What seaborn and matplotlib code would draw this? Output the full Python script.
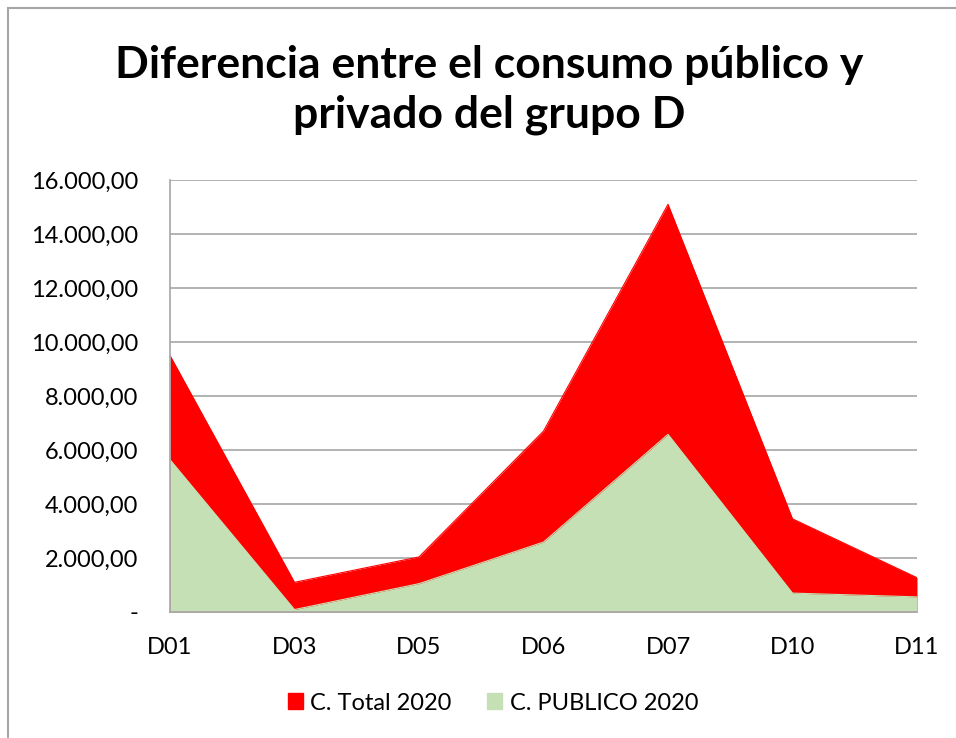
import numpy as np
import pandas as pd
import matplotlib
matplotlib.use("Agg")
import matplotlib.pyplot as plt
import seaborn as sns
from matplotlib.patches import Patch, Rectangle
from matplotlib.ticker import FuncFormatter

# datos
grupos = ["D01", "D03", "D05", "D06", "D07", "D10", "D11"]
total_2020 = [9500, 1100, 2040, 6700, 15100, 3450, 1270]
publico_2020 = [5640, 90, 1050, 2590, 6580, 700, 560]

rojo = "#FF0000"
verde = "#C5E0B4"

sns.set_theme(style="white")
plt.rcParams["font.family"] = ["Lato", "DejaVu Sans"]
plt.rcParams["text.color"] = "black"

df = pd.DataFrame({"grupo": grupos, "total": total_2020, "publico": publico_2020})
df["x"] = np.arange(len(df))

fig = plt.figure(figsize=(9.56, 7.38), dpi=100)
ax = fig.add_axes([170 / 956, 1 - 612 / 738, (917 - 170) / 956, (612 - 180) / 738])

# areas superpuestas (no apiladas)
ax.fill_between(df["x"], df["total"], color=rojo, linewidth=0, zorder=2)
ax.fill_between(df["x"], df["publico"], color=verde, linewidth=0, zorder=3)
sns.lineplot(data=df, x="x", y="total", color=rojo, linewidth=0.8, ax=ax, zorder=2)
sns.lineplot(data=df, x="x", y="publico", color=verde, linewidth=0.8, ax=ax, zorder=3)

ax.set_xlim(0, len(grupos) - 1)
ax.set_ylim(0, 16000)
ax.set_yticks(np.arange(0, 16001, 2000))
ax.set_xticks(df["x"])
ax.set_xticklabels(grupos)


def formato(v, pos):
    if v == 0:
        return "-"
    s = f"{v:,.2f}"
    return s.replace(",", "X").replace(".", ",").replace("X", ".")


ax.yaxis.set_major_formatter(FuncFormatter(formato))
ax.grid(axis="y", color="#A6A6A6", linewidth=1.2, zorder=1)
ax.set_axisbelow(True)
ax.set_xlabel("")
ax.set_ylabel("")
for lado in ["top", "right"]:
    ax.spines[lado].set_visible(False)
for lado in ["left", "bottom"]:
    ax.spines[lado].set_color("#A6A6A6")
    ax.spines[lado].set_linewidth(1.2)
    ax.spines[lado].set_zorder(5)
ax.tick_params(axis="y", length=0, pad=23, labelsize=17, labelcolor="black")
ax.tick_params(axis="x", length=0, pad=18, labelsize=17, labelcolor="black")

fig.text(489 / 956, 1 - 90 / 738, "Diferencia entre el consumo público y\nprivado del grupo D",
         ha="center", va="center", fontsize=32, fontweight="bold", linespacing=1.3, color="black")

handles = [Patch(color=rojo, label="C. Total 2020"), Patch(color=verde, label="C. PUBLICO 2020")]
fig.legend(handles=handles, loc="center", bbox_to_anchor=(493 / 956, 1 - 703 / 738), ncol=2,
           frameon=False, fontsize=17, handlelength=0.65, handleheight=0.65, handletextpad=0.3,
           columnspacing=1.5, labelcolor="black")

# borde del area del grafico
fig.patches.append(Rectangle((8 / 956, -0.1), 1.2, 1 - 8 / 738 + 0.1, transform=fig.transFigure,
                             fill=False, edgecolor="#A6A6A6", linewidth=1.5))

fig.savefig("out.png", dpi=100)
